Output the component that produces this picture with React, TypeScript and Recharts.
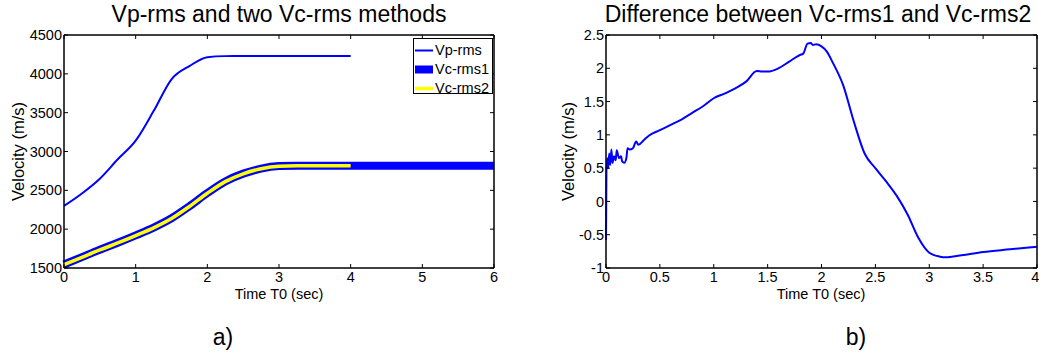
import { Legend, Line, LineChart, ReferenceArea, XAxis, YAxis } from "recharts";

// left panel: rms velocities vs T0
const timeA = [0, 0.25, 0.5, 0.75, 1, 1.25, 1.5, 1.75, 2, 2.25, 2.5, 2.75, 3, 3.25, 3.5, 3.75, 4, 4.25, 4.5, 4.75, 5, 5.25, 5.5, 5.75, 6];
const vpRms = [2300, 2460, 2650, 2900, 3140, 3520, 3930, 4100, 4215, 4228, 4230, 4230, 4230, 4230, 4230, 4230, 4230];
const vcRms1 = [1545, 1640, 1735, 1825, 1920, 2020, 2140, 2295, 2465, 2615, 2715, 2780, 2812, 2818, 2818, 2818, 2818, 2818, 2818, 2818, 2818, 2818, 2818, 2818, 2818];
const vcRms2 = [1542, 1637, 1732, 1822, 1917, 2017, 2137, 2292, 2462, 2612, 2712, 2778, 2810, 2816, 2816, 2816, 2816];
const xTicksA = [0, 1, 2, 3, 4, 5, 6];
const yTicksA = [1500, 2000, 2500, 3000, 3500, 4000, 4500];

// right panel: Vc-rms1 - Vc-rms2
const timeB = [0, 0.004, 0.01, 0.02, 0.03, 0.04, 0.05, 0.06, 0.075, 0.09, 0.1, 0.12, 0.14, 0.15, 0.17, 0.19, 0.2, 0.22, 0.25, 0.28, 0.3, 0.35, 0.4, 0.5, 0.6, 0.7, 0.8, 0.9, 1, 1.1, 1.2, 1.3, 1.4, 1.45, 1.5, 1.6, 1.7, 1.8, 1.83, 1.87, 1.9, 1.92, 1.95, 2, 2.05, 2.1, 2.2, 2.3, 2.4, 2.5, 2.6, 2.7, 2.8, 2.9, 3, 3.1, 3.15, 3.3, 3.5, 3.75, 4];
const diffRms = [-0.58, 0.45, 0.65, 0.5, 0.72, 0.55, 0.78, 0.58, 0.68, 0.62, 0.77, 0.65, 0.68, 0.6, 0.58, 0.66, 0.8, 0.78, 0.8, 0.9, 0.85, 0.92, 0.99, 1.07, 1.15, 1.23, 1.33, 1.43, 1.55, 1.62, 1.7, 1.8, 1.96, 1.95, 1.95, 2.0, 2.1, 2.2, 2.22, 2.37, 2.38, 2.35, 2.36, 2.33, 2.25, 2.1, 1.75, 1.2, 0.72, 0.5, 0.3, 0.08, -0.2, -0.55, -0.77, -0.83, -0.84, -0.81, -0.76, -0.72, -0.68];
const xTicksB = [0, 0.5, 1, 1.5, 2, 2.5, 3, 3.5, 4];
const yTicksB = [-1, -0.5, 0, 0.5, 1, 1.5, 2, 2.5];

const seriesA = [
	{ key: "vp", name: "Vp-rms", color: "#0000ff", width: 2 },
	{ key: "vc1", name: "Vc-rms1", color: "#0000ff", width: 8 },
	{ key: "vc2", name: "Vc-rms2", color: "#ffff00", width: 3.5 },
];

const dataA = timeA.map((t, i) => ({
	t,
	vp: vpRms[i] ?? null,
	vc1: vcRms1[i] ?? null,
	vc2: vcRms2[i] ?? null,
}));
const dataB = timeB.map((t, i) => ({ t, diff: diffRms[i] }));

const FONT = "'Liberation Sans', Arial, Helvetica, sans-serif";
const tickStyle = { fill: "#000", fontSize: 14.5, fontFamily: FONT };
const axisLine = { stroke: "#000" };
const tickLine = { stroke: "#000" };

function LegendBox() {
	return (
		<div
			style={{
				width: 80,
				height: 56,
				boxSizing: "border-box",
				border: "1px solid #000",
				background: "#fff",
				paddingTop: 2,
				fontFamily: FONT,
				fontSize: 14.5,
				color: "#000",
			}}
		>
			{seriesA.map((s) => (
				<div key={s.key} style={{ height: 19, display: "flex", alignItems: "center" }}>
					<svg width={21} height={19} style={{ flex: "none" }}>
						<line x1={1} x2={19} y1={9.5} y2={9.5} stroke={s.color} strokeWidth={s.width} />
					</svg>
					<span style={{ whiteSpace: "nowrap", lineHeight: "19px" }}>{s.name}</span>
				</div>
			))}
		</div>
	);
}

export default function App() {
	return (
		<div style={{ position: "absolute", left: 0, top: 0, width: 1039, height: 353, background: "#fff" }}>
			<div style={{ position: "absolute", left: 0, top: 0 }}>
				<LineChart width={520} height={353} data={dataA} margin={{ top: 34, right: 25, bottom: 65, left: 0 }}>
					<XAxis xAxisId="b" dataKey="t" type="number" domain={[0, 6]} ticks={xTicksA} height={20}
						tickSize={-4} tickMargin={8} tick={tickStyle} axisLine={axisLine} tickLine={tickLine} />
					<XAxis xAxisId="t" orientation="top" dataKey="t" type="number" domain={[0, 6]} ticks={xTicksA} height={1}
						tickSize={-4} tickFormatter={() => ""} axisLine={axisLine} tickLine={tickLine} />
					<YAxis yAxisId="l" type="number" domain={[1500, 4500]} ticks={yTicksA} width={64}
						tickSize={-4} tickMargin={6} tick={tickStyle} axisLine={axisLine} tickLine={tickLine} />
					<YAxis yAxisId="r" orientation="right" type="number" domain={[1500, 4500]} ticks={yTicksA} width={1}
						tickSize={-4} tickFormatter={() => ""} axisLine={axisLine} tickLine={tickLine} />
					{/* box around the plot area */}
					<ReferenceArea xAxisId="b" yAxisId="l" x1={0} x2={6} y1={1500} y2={4500} ifOverflow="visible"
						fill="none" stroke="#000" strokeWidth={1} fillOpacity={0} />
					{/* invisible series so the top/right frame axes get drawn */}
					<Line xAxisId="t" yAxisId="r" dataKey="vc1" stroke="none" dot={false} activeDot={false}
						legendType="none" isAnimationActive={false} />
					{seriesA.map((s) => (
						<Line key={s.key} xAxisId="b" yAxisId="l" type="monotone" dataKey={s.key} name={s.name}
							stroke={s.color} strokeWidth={s.width} dot={false} activeDot={false} isAnimationActive={false} />
					))}
					<Legend layout="vertical" align="center" verticalAlign="middle" content={() => <LegendBox />}
						wrapperStyle={{ left: 413, top: 38, width: 80, height: 56 }} />
				</LineChart>
			</div>
			<div style={{ position: "absolute", left: 520, top: 0 }}>
				<LineChart width={519} height={353} data={dataB} margin={{ top: 34, right: 1, bottom: 65, left: 0 }}>
					<XAxis xAxisId="b" dataKey="t" type="number" domain={[0, 4]} ticks={xTicksB} height={20}
						tickSize={-4} tickMargin={8} tick={tickStyle} axisLine={axisLine} tickLine={tickLine} />
					<XAxis xAxisId="t" orientation="top" dataKey="t" type="number" domain={[0, 4]} ticks={xTicksB} height={1}
						tickSize={-4} tickFormatter={() => ""} axisLine={axisLine} tickLine={tickLine} />
					<YAxis yAxisId="l" type="number" domain={[-1, 2.5]} ticks={yTicksB} width={86}
						tickSize={-4} tickMargin={6} tick={tickStyle} axisLine={axisLine} tickLine={tickLine} />
					<YAxis yAxisId="r" orientation="right" type="number" domain={[-1, 2.5]} ticks={yTicksB} width={1}
						tickSize={-4} tickFormatter={() => ""} axisLine={axisLine} tickLine={tickLine} />
					<ReferenceArea xAxisId="b" yAxisId="l" x1={0} x2={4} y1={-1} y2={2.5} ifOverflow="visible"
						fill="none" stroke="#000" strokeWidth={1} fillOpacity={0} />
					<Line xAxisId="t" yAxisId="r" dataKey="diff" stroke="none" dot={false} activeDot={false}
						legendType="none" isAnimationActive={false} />
					<Line xAxisId="b" yAxisId="l" type="monotone" dataKey="diff" stroke="#0000ff" strokeWidth={2}
						dot={false} activeDot={false} isAnimationActive={false} />
				</LineChart>
			</div>
			<svg width={1039} height={353} style={{ position: "absolute", left: 0, top: 0, pointerEvents: "none" }}
				fontFamily={FONT} fill="#000">
				<text x={279} y={22} textAnchor="middle" fontSize={23}>Vp-rms and two Vc-rms methods</text>
				<text x={818} y={22} textAnchor="middle" fontSize={23}>Difference between Vc-rms1 and Vc-rms2</text>
				<text x={279} y={299} textAnchor="middle" fontSize={14.5}>Time T0 (sec)</text>
				<text x={821} y={299} textAnchor="middle" fontSize={14.5}>Time T0 (sec)</text>
				<text transform="translate(24 151.5) rotate(-90)" textAnchor="middle" fontSize={16.5}>Velocity (m/s)</text>
				<text transform="translate(574 151.5) rotate(-90)" textAnchor="middle" fontSize={16.5}>Velocity (m/s)</text>
				<text x={223} y={345} textAnchor="middle" fontSize={23}>a)</text>
				<text x={856} y={345} textAnchor="middle" fontSize={23}>b)</text>
			</svg>
		</div>
	);
}
